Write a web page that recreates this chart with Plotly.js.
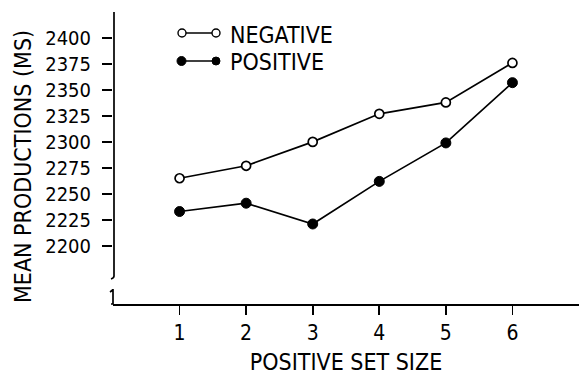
<!DOCTYPE html>
<html><head><meta charset="utf-8">
<script src="https://cdn.plot.ly/plotly-3.0.1.min.js"></script>
<style>html,body{margin:0;padding:0;background:#fff}#c{width:579px;height:376px}</style>
</head><body><div id="c"></div>
<script>
const setSize = [1, 2, 3, 4, 5, 6];
const negative = [2265, 2277, 2300, 2327, 2338, 2376];
const positive = [2233, 2241, 2221, 2262, 2299, 2357];
const yTicks = [2200, 2225, 2250, 2275, 2300, 2325, 2350, 2375, 2400];
const seriesNames = ['NEGATIVE', 'POSITIVE'];
const xTitle = 'POSITIVE SET SIZE';
const yTitle = 'MEAN PRODUCTIONS (MS)';

const FONT = '"Liberation Sans Narrow", "DejaVu Sans Condensed", "Arial Narrow", sans-serif';

const traces = [
  {x: setSize, y: negative, name: seriesNames[0], mode: 'lines+markers', type: 'scatter',
   line: {color: '#000', width: 1.7},
   marker: {symbol: 'circle', size: 9, color: '#fff', line: {color: '#000', width: 1.7}},
   showlegend: false},
  {x: setSize, y: positive, name: seriesNames[1], mode: 'lines+markers', type: 'scatter',
   line: {color: '#000', width: 1.7},
   marker: {symbol: 'circle', size: 10, color: '#000', line: {color: '#000', width: 1}},
   showlegend: false}
];

// axis break geometry (paper units)
const W = 466, H = 292;
const px = v => v / W, py = v => v / H;
const shapes = [
  {type: 'path', xref: 'paper', yref: 'paper',
   path: `M ${px(1)} 1 L ${px(1)} ${py(28)} Q ${px(1)} ${py(26)} ${-px(2)} ${py(25)}`,
   line: {color: '#000', width: 1.7}},
  {type: 'path', xref: 'paper', yref: 'paper',
   path: `M ${-px(3)} ${py(12)} Q 0 ${py(14)} 0 ${py(15)} L 0 0 L ${-px(2)} 0`,
   line: {color: '#000', width: 1.7}},
  {type: 'line', xref: 'paper', yref: 'paper', x0: px(182-113), x1: px(216-113),
   y0: py(304-33), y1: py(304-33), line: {color: '#000', width: 1.4}},
  {type: 'line', xref: 'paper', yref: 'paper', x0: px(182-113), x1: px(216-113),
   y0: py(304-61), y1: py(304-61), line: {color: '#000', width: 1.4}},
  {type: 'circle', xref: 'paper', yref: 'paper', x0: px(178-113), x1: px(186-113),
   y0: py(304-37), y1: py(304-29), fillcolor: '#fff', line: {color: '#000', width: 1.4}},
  {type: 'circle', xref: 'paper', yref: 'paper', x0: px(212-113), x1: px(220-113),
   y0: py(304-37), y1: py(304-29), fillcolor: '#fff', line: {color: '#000', width: 1.4}},
  {type: 'circle', xref: 'paper', yref: 'paper', x0: px(177-113), x1: px(186-113),
   y0: py(304-65.5), y1: py(304-56.5), fillcolor: '#000', line: {color: '#000', width: 1}},
  {type: 'circle', xref: 'paper', yref: 'paper', x0: px(212-113), x1: px(220-113),
   y0: py(304-65), y1: py(304-57), fillcolor: '#000', line: {color: '#000', width: 1}}
];

const annotations = [
  {xref: 'paper', yref: 'paper', x: px(228-113), y: py(304-35), xanchor: 'left', yanchor: 'middle',
   text: seriesNames[0], showarrow: false, font: {family: FONT, size: 23, color: '#000'}},
  {xref: 'paper', yref: 'paper', x: px(228-113), y: py(304-62), xanchor: 'left', yanchor: 'middle',
   text: seriesNames[1], showarrow: false, font: {family: FONT, size: 23, color: '#000'}},
  {xref: 'paper', yref: 'paper', x: px(23-113), y: py(304-167), xanchor: 'center', yanchor: 'middle',
   textangle: -90, text: yTitle, showarrow: false, font: {family: FONT, size: 23, color: '#000'}}
];

const layout = {
  width: 579, height: 376,
  margin: {l: 113, r: 0, t: 12, b: 72, pad: 0},
  paper_bgcolor: '#fff', plot_bgcolor: '#fff',
  font: {family: FONT, color: '#000', size: 20},
  showlegend: false,
  xaxis: {
    range: [0, 7], tickvals: setSize, ticktext: setSize.map(String),
    showgrid: false, zeroline: false, showline: true, linecolor: '#000', linewidth: 1.7,
    ticks: 'outside', ticklen: 9, tickwidth: 1.7, tickcolor: '#000',
    tickfont: {family: FONT, size: 21, color: '#000'},
    ticklabelstandoff: 0,
    title: {text: xTitle, font: {family: FONT, size: 23, color: '#000'}, standoff: 10}
  },
  yaxis: {
    range: [2144, 2425], tickvals: yTicks, ticktext: yTicks.map(String),
    showgrid: false, zeroline: false, showline: false,
    ticks: 'outside', ticklen: 10, tickwidth: 1.7, tickcolor: '#000',
    tickfont: {family: FONT, size: 20, color: '#000'},
    ticklabelstandoff: 7
  },
  shapes: shapes,
  annotations: annotations
};

Plotly.newPlot('c', traces, layout, {displayModeBar: false, staticPlot: true});
</script>
</body></html>
